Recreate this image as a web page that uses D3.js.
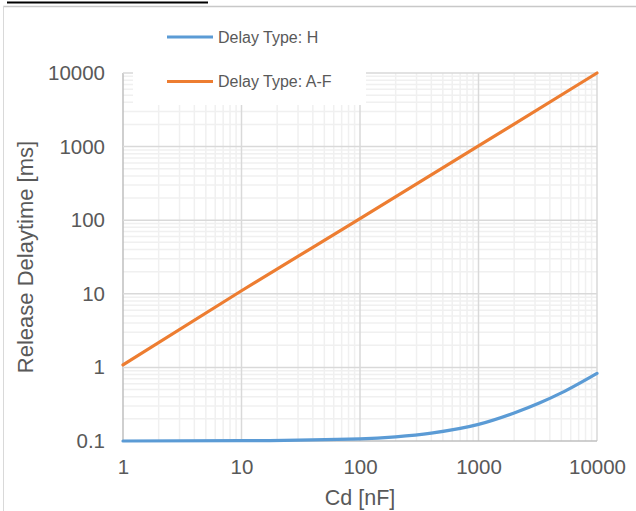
<!DOCTYPE html>
<html>
<head>
<meta charset="utf-8">
<script src="https://cdn.jsdelivr.net/npm/d3@7"></script>
<style>
    body { margin: 0; background: #fff; }
    text { font-family: "Liberation Sans", Arial, sans-serif; fill: #595959; }
</style>
</head>
<body>
<div id="chart"></div>
<script>
// Data
const cdValues = [1, 10, 100, 200, 400, 1000, 2000, 3300, 5000, 10000];
const delayH = [0.1, 0.101, 0.107, 0.114, 0.128, 0.168, 0.24, 0.33, 0.45, 0.83];
const cdOrange = [1, 10, 100, 1000, 10000];
const delayAF = [1.08, 11, 105, 1020, 10000];
const seriesNames = ["Delay Type: H", "Delay Type: A-F"];
const seriesColors = ["#5b9bd5", "#ed7d31"];
const xTicks = [1, 10, 100, 1000, 10000];
const yTicks = [0.1, 1, 10, 100, 1000, 10000];

const width = 636,
    height = 511,
    margin = { top: 73, right: 39, bottom: 70, left: 123 };

const svg = d3
    .select("#chart")
    .append("svg")
    .attr("width", width)
    .attr("height", height);

// Frame bits from the surrounding document
svg.append("line")
    .attr("x1", 7).attr("x2", 208)
    .attr("y1", 2.5).attr("y2", 2.5)
    .attr("stroke", "#000").attr("stroke-width", 2);
svg.append("line")
    .attr("x1", 3).attr("x2", width)
    .attr("y1", 6.5).attr("y2", 6.5)
    .attr("stroke", "#c8c8c8").attr("stroke-width", 1.5);
svg.append("line")
    .attr("x1", 3.5).attr("x2", 3.5)
    .attr("y1", 6).attr("y2", height)
    .attr("stroke", "#d9d9d9").attr("stroke-width", 1);

let x = d3
    .scaleLog()
    .domain([1, 10000])
    .range([margin.left, width - margin.right]);

let y = d3
    .scaleLog()
    .domain([0.1, 10000])
    .range([height - margin.bottom, margin.top]);

// Minor grid
const minorX = [];
for (let d = 1; d < 10000; d *= 10)
    for (let k = 2; k <= 9; k++) minorX.push(d * k);
const minorY = [];
for (let d = 0.1; d < 9999; d *= 10)
    for (let k = 2; k <= 9; k++) minorY.push(d * k);

const grid = svg.append("g");
grid.selectAll(".mx")
    .data(minorX)
    .join("line")
    .attr("x1", (d) => x(d)).attr("x2", (d) => x(d))
    .attr("y1", y(10000)).attr("y2", y(0.1))
    .attr("stroke", "#f0f0f0").attr("stroke-width", 1.5);
grid.selectAll(".my")
    .data(minorY)
    .join("line")
    .attr("x1", x(1)).attr("x2", x(10000))
    .attr("y1", (d) => y(d)).attr("y2", (d) => y(d))
    .attr("stroke", "#f0f0f0").attr("stroke-width", 1.5);
grid.selectAll(".Mx")
    .data(xTicks)
    .join("line")
    .attr("x1", (d) => x(d)).attr("x2", (d) => x(d))
    .attr("y1", y(10000)).attr("y2", y(0.1))
    .attr("stroke", (d) => (d == 1 ? "#bfbfbf" : "#d9d9d9"))
    .attr("stroke-width", 1.5);
grid.selectAll(".My")
    .data(yTicks)
    .join("line")
    .attr("x1", x(1)).attr("x2", x(10000))
    .attr("y1", (d) => y(d)).attr("y2", (d) => y(d))
    .attr("stroke", (d) => (d == 0.1 ? "#bfbfbf" : "#d9d9d9"))
    .attr("stroke-width", 1.5);

// Axes labels
svg.append("g")
    .attr("transform", `translate(0,${height - margin.bottom})`)
    .call(d3.axisBottom(x).tickValues(xTicks).tickFormat(d3.format("d")).tickSize(0).tickPadding(18))
    .call((g) => g.select(".domain").remove())
    .call((g) => g.selectAll("text").style("font-size", "20.5px").attr("fill", "#595959"));

svg.append("g")
    .attr("transform", `translate(${margin.left},0)`)
    .call(d3.axisLeft(y).tickValues(yTicks).tickFormat((d) => (d < 1 ? "0.1" : d3.format("d")(d))).tickSize(0).tickPadding(18))
    .call((g) => g.select(".domain").remove())
    .call((g) => g.selectAll("text").style("font-size", "20.5px").attr("fill", "#595959"));

// Legend box (covers grid)
svg.append("rect")
    .attr("x", 133).attr("y", 20)
    .attr("width", 233).attr("height", 85)
    .attr("fill", "#fff");

// Lines
const line = d3.line()
    .x((d) => x(d[0]))
    .y((d) => y(d[1]))
    .curve(d3.curveMonotoneX);

svg.append("path")
    .datum(cdValues.map((c, i) => [c, delayH[i]]))
    .attr("d", line)
    .attr("fill", "none")
    .attr("stroke", seriesColors[0])
    .attr("stroke-width", 3.2)
    .attr("stroke-linecap", "round");

svg.append("path")
    .datum(cdOrange.map((c, i) => [c, delayAF[i]]))
    .attr("d", line)
    .attr("fill", "none")
    .attr("stroke", seriesColors[1])
    .attr("stroke-width", 3.2)
    .attr("stroke-linecap", "round");

// Legend
const legend = svg.append("g")
    .selectAll("g")
    .data(seriesNames)
    .join("g")
    .attr("transform", (d, i) => `translate(167,${37 + i * 44.5})`);
legend.append("line")
    .attr("x1", 0).attr("x2", 46)
    .attr("stroke", (d, i) => seriesColors[i])
    .attr("stroke-width", 3.2);
legend.append("text")
    .attr("x", 51)
    .attr("dy", "0.35em")
    .style("font-size", "16px")
    .text((d) => d);

// Axis titles
svg.append("text")
    .attr("text-anchor", "middle")
    .attr("x", (x(1) + x(10000)) / 2)
    .attr("y", 505)
    .style("font-size", "21.5px")
    .text("Cd [nF]");

svg.append("text")
    .attr("text-anchor", "middle")
    .attr("transform", `translate(33,${(y(0.1) + y(10000)) / 2}) rotate(-90)`)
    .style("font-size", "22px")
    .text("Release Delaytime [ms]");
</script>
</body>
</html>
